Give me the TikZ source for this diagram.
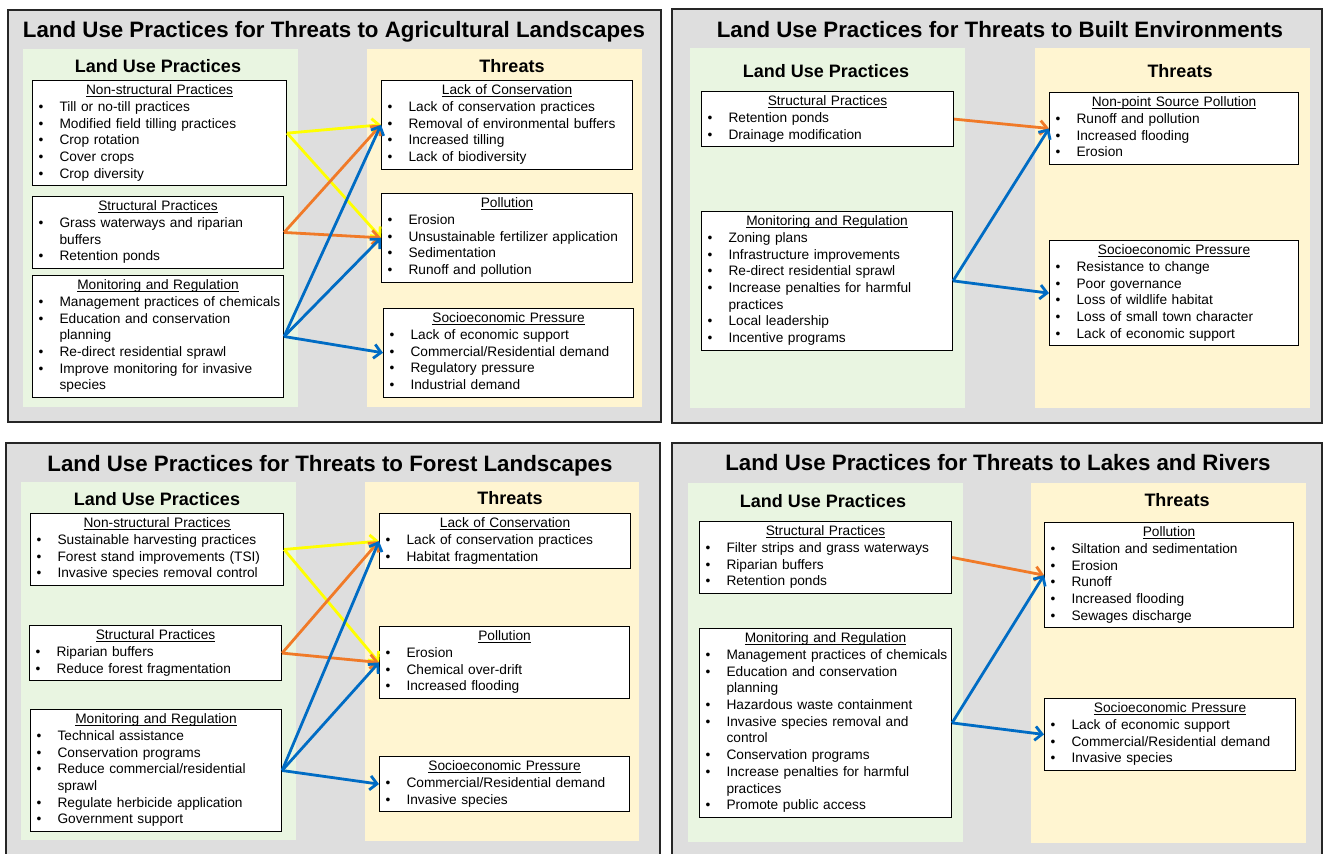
\documentclass[tikz,border=0pt]{standalone}
\usepackage{fontspec}
\setmainfont{Liberation Sans}
\usetikzlibrary{arrows.meta}

\definecolor{panelgray}{RGB}{222,222,222}
\definecolor{practgreen}{RGB}{233,245,225}
\definecolor{threatyellow}{RGB}{255,245,209}
\definecolor{arryellow}{RGB}{255,255,0}
\definecolor{arrorange}{RGB}{240,122,40}
\definecolor{arrblue}{RGB}{0,108,196}

\newcommand{\hdr}[1]{{\centering\setbox0\hbox{#1}\rlap{\rule[-1.7pt]{\wd0}{0.7pt}}\box0\strut\par}}
\newcommand{\itm}[1]{\par\hangindent=27pt\hangafter=1\noindent\strut\makebox[27pt][l]{\hspace{6pt}\textbullet}#1\strut\par}

\begin{document}
\begin{tikzpicture}[x=1pt, y=-1pt,
  panel/.style={draw=black!85, line width=1.8pt, fill=panelgray},
  paneltitle/.style={anchor=base, font=\bfseries\fontsize{22.3}{26}\selectfont},
  colhead/.style={font=\bfseries\fontsize{18}{21}\selectfont},
  box/.style={draw=black, line width=1.1pt, fill=white, anchor=north west,
    inner xsep=0pt, inner ysep=2.5pt, align=left,
    font=\fontsize{13.7}{16.7}\selectfont},
  arr/.style={line width=2.8pt, -{Straight Barb[length=7pt,width=14pt]}}]
\clip (0,0) rectangle (1323,854);

% Agricultural Landscapes
\draw [panel] (8,10) rectangle (661,422);
\node [paneltitle] (a-title) at (334,37) {Land Use Practices for Threats to Agricultural Landscapes};
\fill [practgreen] (23,49) rectangle (298,407);
\fill [threatyellow] (367,49) rectangle (642,407);
\node [colhead] (a-lhead) at (158,66) {Land Use Practices};
\node [colhead] (a-thead) at (512,66) {Threats};
\node [box, text width=254pt] (a-ns) at (32,80) {\hdr{Non-structural Practices}
  \itm{Till or no-till practices}\itm{Modified field tilling practices}
  \itm{Crop rotation}\itm{Cover crops}\itm{Crop diversity}};
\node [box, text width=251pt] (a-s) at (32,196) {\hdr{Structural Practices}
  \itm{Grass waterways and riparian\newline buffers}\itm{Retention ponds}};
\node [box, text width=251pt] (a-m) at (32,275) {\hdr{Monitoring and Regulation}
  \itm{Management practices of chemicals}\itm{Education and conservation\newline planning}
  \itm{Re-direct residential sprawl}\itm{Improve monitoring for invasive\newline species}};
\node [box, text width=251pt] (a-lc) at (381,80) {\hdr{Lack of Conservation}
  \itm{Lack of conservation practices}\itm{Removal of environmental buffers}
  \itm{Increased tilling}\itm{Lack of biodiversity}};
\node [box, text width=251pt] (a-p) at (381,193) {\hdr{Pollution}
  \itm{Erosion}\itm{Unsustainable fertilizer application}
  \itm{Sedimentation}\itm{Runoff and pollution}};
\node [box, text width=250pt] (a-se) at (383,308) {\hdr{Socioeconomic Pressure}
  \itm{Lack of economic support}\itm{Commercial/Residential demand}
  \itm{Regulatory pressure}\itm{Industrial demand}};
\draw [arr, arryellow] (a-ns.east) -- (a-lc.west);
\draw [arr, arryellow] (a-ns.east) -- (a-p.west);
\draw [arr, arrorange] (a-s.east) -- (a-lc.west);
\draw [arr, arrorange] (a-s.east) -- (a-p.west);
\draw [arr, arrblue] (a-m.east) -- (a-lc.west);
\draw [arr, arrblue] (a-m.east) -- (a-p.west);
\draw [arr, arrblue] (a-m.east) -- (a-se.west);

% Built Environments
\draw [panel] (672,9) rectangle (1322,423);
\node [paneltitle] (b-title) at (1000,37) {Land Use Practices for Threats to Built Environments};
\fill [practgreen] (690,48) rectangle (965,408);
\fill [threatyellow] (1035,48) rectangle (1310,408);
\node [colhead] (b-lhead) at (826,71) {Land Use Practices};
\node [colhead] (b-thead) at (1180,71) {Threats};
\node [box, text width=252pt] (b-s) at (701,91) {\hdr{Structural Practices}
  \itm{Retention ponds}\itm{Drainage modification}};
\node [box, text width=251pt] (b-m) at (701,211) {\hdr{Monitoring and Regulation}
  \itm{Zoning plans}\itm{Infrastructure improvements}\itm{Re-direct residential sprawl}
  \itm{Increase penalties for harmful\newline practices}\itm{Local leadership}\itm{Incentive programs}};
\node [box, text width=249pt] (b-nps) at (1049,92) {\hdr{Non-point Source Pollution}
  \itm{Runoff and pollution}\itm{Increased flooding}\itm{Erosion}};
\node [box, text width=249pt] (b-se) at (1049,240) {\hdr{Socioeconomic Pressure}
  \itm{Resistance to change}\itm{Poor governance}\itm{Loss of wildlife habitat}
  \itm{Loss of small town character}\itm{Lack of economic support}};
\draw [arr, arrorange] (b-s.east) -- (b-nps.west);
\draw [arr, arrblue] (b-m.east) -- (b-nps.west);
\draw [arr, arrblue] (b-m.east) -- (b-se.west);

% Forest Landscapes
\draw [panel] (6,443) rectangle (660,866);
\node [paneltitle] (f-title) at (330,471) {Land Use Practices for Threats to Forest Landscapes};
\fill [practgreen] (21,482) rectangle (296,840);
\fill [threatyellow] (365,482) rectangle (639,841);
\node [colhead] (f-lhead) at (157,499) {Land Use Practices};
\node [colhead] (f-thead) at (510,498) {Threats};
\node [box, text width=253pt] (f-ns) at (30,513) {\hdr{Non-structural Practices}
  \itm{Sustainable harvesting practices}\itm{Forest stand improvements (TSI)}
  \itm{Invasive species removal control}};
\node [box, text width=252pt] (f-s) at (29,625) {\hdr{Structural Practices}
  \itm{Riparian buffers}\itm{Reduce forest fragmentation}};
\node [box, text width=251pt] (f-m) at (30,709) {\hdr{Monitoring and Regulation}
  \itm{Technical assistance}\itm{Conservation programs}
  \itm{Reduce commercial/residential\newline sprawl}\itm{Regulate herbicide application}
  \itm{Government support}};
\node [box, text width=251pt] (f-lc) at (379,513) {\hdr{Lack of Conservation}
  \itm{Lack of conservation practices}\itm{Habitat fragmentation}};
\node [box, text width=250pt] (f-p) at (379,626) {\hdr{Pollution}
  \itm{Erosion}\itm{Chemical over-drift}\itm{Increased flooding}};
\node [box, text width=250pt] (f-se) at (379,756) {\hdr{Socioeconomic Pressure}
  \itm{Commercial/Residential demand}\itm{Invasive species}};
\draw [arr, arryellow] (f-ns.east) -- (f-lc.west);
\draw [arr, arryellow] (f-ns.east) -- (f-p.west);
\draw [arr, arrorange] (f-s.east) -- (f-lc.west);
\draw [arr, arrorange] (f-s.east) -- (f-p.west);
\draw [arr, arrblue] (f-m.east) -- (f-lc.west);
\draw [arr, arrblue] (f-m.east) -- (f-p.west);
\draw [arr, arrblue] (f-m.east) -- (f-se.west);

% Lakes and Rivers
\draw [panel] (672,443) rectangle (1322,866);
\node [paneltitle] (l-title) at (998,470) {Land Use Practices for Threats to Lakes and Rivers};
\fill [practgreen] (688,483) rectangle (963,842);
\fill [threatyellow] (1031,483) rectangle (1306,843);
\node [colhead] (l-lhead) at (823,501) {Land Use Practices};
\node [colhead] (l-thead) at (1177,500) {Threats};
\node [box, text width=252pt] (l-s) at (699,521) {\hdr{Structural Practices}
  \itm{Filter strips and grass waterways}\itm{Riparian buffers}\itm{Retention ponds}};
\node [box, text width=252pt] (l-m) at (699,628) {\hdr{Monitoring and Regulation}
  \itm{Management practices of chemicals}\itm{Education and conservation\newline planning}
  \itm{Hazardous waste containment}\itm{Invasive species removal and\newline control}
  \itm{Conservation programs}\itm{Increase penalties for harmful\newline practices}
  \itm{Promote public access}};
\node [box, text width=249pt] (l-p) at (1044,522) {\hdr{Pollution}
  \itm{Siltation and sedimentation}\itm{Erosion}\itm{Runoff}
  \itm{Increased flooding}\itm{Sewages discharge}};
\node [box, text width=251pt] (l-se) at (1044,698) {\hdr{Socioeconomic Pressure}
  \itm{Lack of economic support}\itm{Commercial/Residential demand}\itm{Invasive species}};
\draw [arr, arrorange] (l-s.east) -- (l-p.west);
\draw [arr, arrblue] (l-m.east) -- (l-p.west);
\draw [arr, arrblue] (l-m.east) -- (l-se.west);
\end{tikzpicture}
\end{document}
